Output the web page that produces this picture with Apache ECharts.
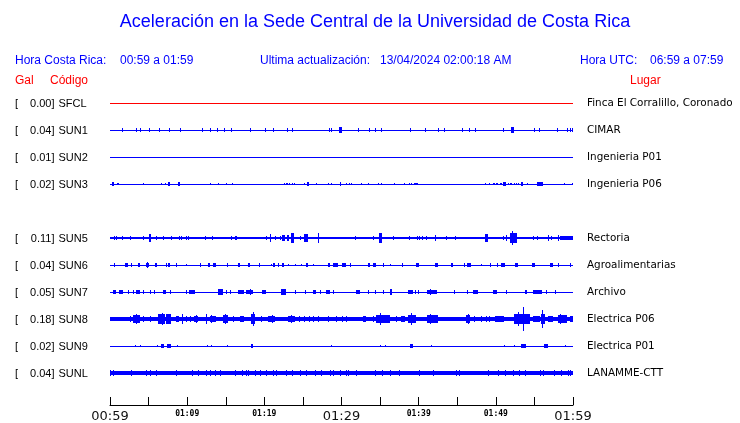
<!DOCTYPE html>
<html><head><meta charset="utf-8">
<script src="https://cdn.jsdelivr.net/npm/echarts@6/dist/echarts.min.js"></script>
<style>html,body{margin:0;padding:0;background:#fff}#c{width:740px;height:423px}</style>
</head><body><div id="c"></div>
<script>
// ---------- DATA ----------
const titleText = 'Aceleración en la Sede Central de la Universidad de Costa Rica';
const stationCodes = ['SFCL','SUN1','SUN2','SUN3','SUN5','SUN6','SUN7','SUN8','SUN9','SUNL'];
const peakGal = [0.00,0.04,0.01,0.02,0.11,0.04,0.05,0.18,0.02,0.04];
const places = ['Finca El Corralillo, Coronado','CIMAR','Ingenieria P01','Ingenieria P06','Rectoria','Agroalimentarias','Archivo','Electrica P06','Electrica P01','LANAMME-CTT'];
// background noise half-amplitude (Gal)
const noiseGal = [0,0,0,0,0.022,0.006,0.004,0.03,0.003,0.028];
// time tick labels every 10 minutes (minutes 0..60 from 00:59)
const timeLabels = ['00:59','01:09','01:19','01:29','01:39','01:49','01:59'];
// bursts: [minute, amplitudeGal] or [startMinute, endMinute, amplitudeGal]
const burstsSFCL = [];
const burstsSUN1 = [[1.58,0.03],[3.39,0.03],[3.83,0.03],[4.99,0.03],[6.33,0.025],[7.63,0.025],[9.01,0.03],[11.91,0.025],[12.91,0.03],[13.86,0.03],[14.76,0.025],[15.72,0.025],[18.09,0.03],[20.13,0.03],[21.12,0.03],[22.94,0.03],[23.55,23.7,0.035],[28.38,0.03],[28.69,0.025],[29.7,30.0,0.04],[32.14,0.025],[33.53,0.03],[34.31,0.025],[35.17,0.025],[38.85,0.025],[40.8,40.95,0.03],[42.52,0.03],[43.26,0.03],[45.68,0.025],[46.54,0.025],[47.32,0.025],[50.95,0.025],[52.0,52.3,0.04],[54.97,0.025],[55.62,0.025],[57.95,0.025],[59.17,0.025],[59.6,0.03],[59.81,0.03]];
const burstsSUN2 = [];
const burstsSUN3 = [[0.3,0.5,0.025],[0.9,1.15,0.02],[4.26,0.02],[6.64,0.02],[7.07,0.02],[7.55,7.75,0.025],[8.85,9.05,0.025],[12.99,0.02],[13.99,0.02],[15.07,0.02],[15.8,0.02],[22.5,0.02],[22.76,0.02],[22.94,0.02],[23.19,0.02],[23.63,0.02],[23.89,0.02],[25.1,0.02],[25.55,25.75,0.025],[26.74,0.02],[28.25,0.02],[28.6,0.02],[29.75,29.95,0.025],[30.63,0.02],[30.98,0.02],[31.28,0.02],[32.58,0.02],[33.44,0.02],[34.74,0.02],[35.08,0.02],[36.77,0.02],[38.11,0.02],[38.76,0.02],[39.06,0.02],[39.36,39.93,0.02],[48.57,0.02],[49.13,0.02],[49.57,0.02],[49.8,0.02],[50.0,50.3,0.02],[50.5,0.02],[50.7,0.02],[50.95,51.3,0.025],[51.55,0.02],[51.8,52.1,0.02],[52.4,0.02],[52.65,0.02],[52.9,0.02],[53.2,53.5,0.025],[53.98,0.02],[55.27,56.05,0.025],[58.86,0.02],[59.9,0.02]];
const burstsSUN5 = [[0.58,0.03],[0.8,0.034],[1.53,0.03],[2.6,0.03],[4.26,0.03],[5.0,5.25,0.055],[5.99,0.035],[6.85,0.03],[7.93,0.03],[8.93,0.03],[9.15,0.03],[9.79,0.03],[10.09,0.03],[12.26,0.03],[13.25,0.03],[15.72,0.03],[16.15,0.03],[16.36,0.03],[20.26,0.03],[20.7,20.85,0.065],[21.42,0.035],[22.0,0.035],[22.3,22.7,0.05],[23.0,23.15,0.04],[23.45,23.85,0.08],[24.58,0.03],[25.2,25.7,0.055],[26.96,0.07],[31.71,0.03],[34.09,0.035],[34.9,35.3,0.075],[36.68,0.03],[38.76,0.03],[39.8,0.03],[40.1,0.03],[40.4,0.03],[41.01,0.03],[42.1,0.05],[43.5,0.03],[44.68,0.03],[48.6,49.0,0.06],[50.95,0.03],[51.38,0.04],[51.8,52.7,0.07],[52.15,0.1],[54.76,0.035],[55.28,0.035],[56.79,0.04],[57.09,0.035],[58.09,0.05],[58.3,60,0.03]];
const burstsSUN6 = [[0.58,0.025],[1.9,2.3,0.035],[2.75,0.025],[3.6,3.83,0.025],[4.69,5.04,0.035],[4.8,0.04],[5.77,6.07,0.025],[7.28,0.025],[7.5,7.8,0.025],[8.5,8.67,0.025],[9.79,0.02],[11.69,0.025],[12.69,12.9,0.025],[13.34,13.77,0.025],[15.2,0.025],[16.58,16.8,0.025],[17.88,18.18,0.025],[19.3,0.03],[20.82,0.02],[21.12,21.34,0.025],[21.77,0.025],[22.33,22.55,0.025],[23.07,0.02],[23.93,0.02],[24.8,0.02],[25.45,25.67,0.03],[26.31,0.02],[28.25,28.47,0.025],[28.9,29.55,0.025],[30.0,30.6,0.025],[31.07,0.025],[33.44,33.66,0.025],[34.09,34.43,0.025],[35.4,0.025],[36.28,0.02],[37.8,0.025],[39.71,40.06,0.03],[42.1,42.53,0.035],[44.24,44.47,0.025],[45.9,0.025],[46.3,46.8,0.025],[48.14,0.02],[49.2,0.025],[50.1,0.025],[50.7,51.2,0.025],[52.5,52.9,0.025],[54.7,55.1,0.025],[57.0,57.4,0.025],[58.1,0.025],[59.6,0.025]];
const burstsSUN7 = [[0.37,0.8,0.03],[1.23,1.66,0.035],[2.31,0.025],[2.96,0.025],[3.39,3.91,0.035],[4.26,0.025],[5.21,0.025],[5.64,0.025],[6.85,7.2,0.035],[7.72,7.93,0.03],[9.88,0.025],[10.22,10.96,0.03],[13.99,14.63,0.04],[15.07,0.025],[15.59,0.025],[16.58,17.31,0.03],[17.66,18.53,0.03],[18.2,0.05],[19.74,20.26,0.03],[22.2,22.85,0.04],[23.93,0.025],[25.3,0.03],[26.31,26.74,0.03],[27.26,0.025],[28.04,28.47,0.025],[28.9,0.025],[31.84,32.36,0.035],[33.44,0.025],[34.3,0.025],[35.4,0.025],[36.34,36.6,0.04],[38.63,39.28,0.03],[39.49,0.025],[39.92,0.025],[41.1,42.4,0.03],[41.5,0.04],[44.55,0.025],[46.2,0.025],[46.98,47.71,0.03],[49.66,50.1,0.03],[51.3,0.025],[53.76,54.07,0.03],[54.76,55.92,0.03],[56.44,0.025],[57.66,0.025]];
const burstsSUN8 = [[0,0.8,0.035],[2.53,0.04],[2.96,3.83,0.065],[3.35,0.075],[4.26,0.04],[5.21,0.04],[6.2,7.07,0.07],[6.7,0.09],[7.28,7.93,0.07],[7.7,0.08],[8.5,8.93,0.045],[9.36,0.075],[9.79,0.04],[10.31,0.04],[10.83,11.39,0.05],[11.1,0.065],[12.47,0.075],[12.9,13.77,0.05],[13.1,0.06],[14.63,15.28,0.065],[14.95,0.08],[15.93,0.04],[16.8,17.36,0.045],[18.31,18.74,0.075],[18.53,0.1],[19.6,0.04],[20.47,21.34,0.05],[20.95,0.06],[23.07,23.93,0.05],[23.5,0.065],[24.5,0.04],[25.1,0.04],[25.75,0.04],[26.31,0.04],[26.95,0.04],[28.25,0.04],[29.33,0.04],[30.1,0.04],[30.6,0.04],[32.79,33.2,0.045],[34.09,0.04],[34.5,36.3,0.055],[34.95,0.085],[37.1,0.04],[37.77,38.2,0.045],[38.63,39.71,0.065],[39.05,0.085],[41.1,42.5,0.055],[41.45,0.075],[43.2,45.3,0.037],[46.1,46.7,0.06],[46.4,0.08],[47.2,0.04],[48.1,0.04],[48.7,0.04],[49.1,0.04],[49.9,51.0,0.05],[52.3,54.4,0.07],[52.9,0.1],[53.46,0.18],[54.8,55.7,0.045],[55.9,56.4,0.075],[56.0,0.14],[56.8,57.4,0.05],[58.1,59.2,0.06],[58.35,0.08],[59.6,60,0.045]];
const burstsSUN9 = [[3.27,0.02],[3.83,0.02],[6.07,0.02],[6.64,6.94,0.025],[7.41,7.93,0.025],[8.67,0.02],[12.56,0.02],[13.03,0.02],[15.2,0.02],[18.31,18.53,0.025],[28.69,0.02],[34.96,0.02],[35.6,0.02],[38.93,39.28,0.025],[41.66,0.02],[51.08,0.02],[52.3,0.02],[53.3,53.9,0.025],[56.3,56.7,0.025],[58.95,0.02]];
const burstsSUNL = [[0.02,0.04],[0.37,0.04],[2.75,0.04],[4.69,0.04],[5.21,0.04],[5.9,0.04],[8.5,8.65,0.04],[10.66,0.04],[11.39,0.04],[12.39,0.04],[12.9,0.04],[13.55,0.04],[14.2,0.04],[16.15,0.04],[17.17,0.04],[17.66,0.04],[17.88,0.04],[18.74,0.04],[19.48,0.045],[20.26,0.04],[21.12,0.04],[21.47,0.04],[22.85,0.04],[23.55,23.7,0.04],[24.67,0.04],[25.45,0.04],[26.53,0.04],[27.39,0.04],[28.47,0.04],[28.9,0.04],[29.77,0.04],[30.54,0.04],[30.85,0.04],[31.93,0.04],[34.3,0.04],[35.3,0.04],[36.3,0.04],[37.46,0.04],[40.06,0.04],[41.87,0.04],[44.9,0.04],[45.25,0.04],[49.0,0.04],[50.3,0.04],[51.17,0.04],[52.25,0.04],[53.03,0.04],[53.76,0.04],[55.7,0.04],[56.1,0.04],[57.5,0.04],[58.5,0.04],[59.39,0.045],[59.6,0.04]];
const allBursts = [burstsSFCL,burstsSUN1,burstsSUN2,burstsSUN3,burstsSUN5,burstsSUN6,burstsSUN7,burstsSUN8,burstsSUN9,burstsSUNL];

// ---------- LAYOUT / STYLE ----------
const BLUE = '#0000ff', RED = '#ff0000';
const traceColors = [RED, BLUE, BLUE, BLUE, BLUE, BLUE, BLUE, BLUE, BLUE, BLUE];
const PLOT_LEFT = 110, PLOT_WIDTH = 463;
const ROW0 = 103, ROW_STEP = 27, GAP_AFTER = 4;
const T_MIN = 0, T_MAX = 60;
const GAL_RANGE = 0.2;
const rowY = i => ROW0 + ROW_STEP * (i < GAP_AFTER ? i : i + 1);

const grids = [], xAxes = [], yAxes = [], series = [];
stationCodes.forEach((code, i) => {
  grids.push({left: PLOT_LEFT, width: PLOT_WIDTH, top: rowY(i) - ROW_STEP / 2, height: ROW_STEP});
  xAxes.push({gridIndex: i, type: 'value', min: T_MIN, max: T_MAX, show: false});
  yAxes.push({gridIndex: i, type: 'value', min: -GAL_RANGE, max: GAL_RANGE, show: false});
  const data = [[T_MIN, T_MAX, noiseGal[i]]].concat(allBursts[i].map(d => d.length === 2 ? [d[0], d[0], d[1]] : d));
  const color = traceColors[i];
  series.push({
    type: 'custom', xAxisIndex: i, yAxisIndex: i, silent: true, clip: false,
    data: data,
    renderItem: (params, api) => {
      const p0 = api.coord([api.value(0), api.value(2)]);
      const p1 = api.coord([api.value(1), -api.value(2)]);
      const x = Math.round(p0[0]);
      const w = Math.max(1, Math.round(p1[0]) - x);
      const y = Math.round(p0[1]);
      const h = Math.max(1, Math.round(p1[1]) - y);
      return {type: 'rect', shape: {x: x, y: y, width: w, height: h}, style: {fill: color}};
    }
  });
});
// time axis grid
const tIdx = stationCodes.length;
grids.push({left: PLOT_LEFT, width: PLOT_WIDTH, top: 400, height: 8});
xAxes.push({
  gridIndex: tIdx, type: 'value', min: T_MIN, max: T_MAX, interval: 5,
  axisLine: {show: true, lineStyle: {color: '#000', width: 1}},
  axisTick: {show: true, inside: true, length: 8, lineStyle: {color: '#000', width: 1}},
  splitLine: {show: false},
  axisLabel: {
    show: true, margin: 4, hideOverlap: false, showMinLabel: true, showMaxLabel: true,
    formatter: v => {
      if (v % 10 !== 0) return '';
      const lab = timeLabels[v / 10];
      return (v % 30 === 0) ? '{b|' + lab + '}' : '{s|' + lab + '}';
    },
    rich: {
      b: {fontFamily: 'DejaVu Sans', fontSize: 13, color: '#111', lineHeight: 15},
      s: {fontFamily: 'DejaVu Sans Mono', fontSize: 8, fontWeight: 'bold', color: '#000', lineHeight: 10, padding: [0, 0, 0, 0]}
    }
  }
});
yAxes.push({gridIndex: tIdx, type: 'value', show: false});
series.push({type: 'line', xAxisIndex: tIdx, yAxisIndex: tIdx, data: [], silent: true});

// ---------- TEXT ----------
const txt = (text, x, y, color, size, family, align) => ({
  type: 'text', x: x, y: y, silent: true,
  style: {text: text, fill: color, font: size + 'px ' + (family || '"Liberation Sans", Arial, sans-serif'), align: align || 'left', verticalAlign: 'middle'}
});
const graphics = [
  txt(titleText, 375, 22, BLUE, 18, null, 'center'),
  txt('Hora Costa Rica:', 15, 61, BLUE, 12),
  txt('00:59 a 01:59', 120, 61, BLUE, 12),
  txt('Ultima actualización:', 260, 61, BLUE, 12),
  txt('13/04/2024 02:00:18 AM', 380, 61, BLUE, 12),
  txt('Hora UTC:', 580, 61, BLUE, 12),
  txt('06:59 a 07:59', 650, 61, BLUE, 12),
  txt('Gal', 15, 81, RED, 12),
  txt('Código', 50, 81, RED, 12),
  txt('Lugar', 630, 81, RED, 12)
];
stationCodes.forEach((code, i) => {
  const y = rowY(i) + 0.5;
  graphics.push(txt('[', 15, y, '#000', 11));
  graphics.push(txt(peakGal[i].toFixed(2) + ']', 54.5, y, '#000', 11, null, 'right'));
  graphics.push(txt(code, 58.5, y, '#000', 11));
  graphics.push(txt(places[i], 587, y, '#000', 10.4, '"DejaVu Sans", sans-serif'));
});

const chart = echarts.init(document.getElementById('c'), null, {renderer: 'canvas'});
chart.setOption({
  animation: false,
  backgroundColor: '#fff',
  grid: grids, xAxis: xAxes, yAxis: yAxes, series: series,
  graphic: {elements: graphics}
});
</script></body></html>
